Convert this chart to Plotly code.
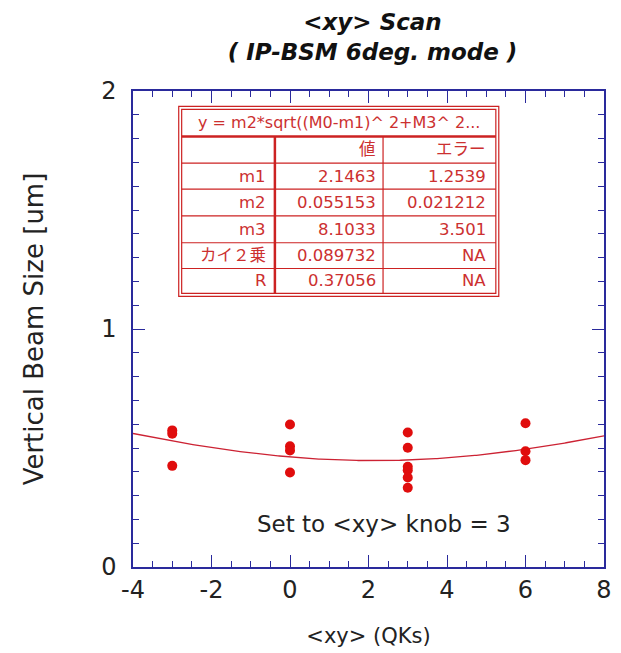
import numpy as np
import plotly.graph_objects as go

# ---- data ----
x_vals = [-3, -3, -3, 0, 0, 0, 0, 3, 3, 3, 3, 3, 3, 6, 6, 6]
y_vals = [0.574, 0.560, 0.425, 0.599, 0.507, 0.490, 0.397,
          0.565, 0.501, 0.421, 0.407, 0.376, 0.333, 0.604, 0.486, 0.449]

fit_m1 = 2.1463
fit_m2 = 0.055153
fit_m3 = 8.1033

table_title = "y = m2*sqrt((M0-m1)^ 2+M3^ 2..."
table_header = ["", "値", "エラー"]
row_labels = ["m1", "m2", "m3", "カイ２乗", "R"]
row_values = ["2.1463", "0.055153", "8.1033", "0.089732", "0.37056"]
row_errors = ["1.2539", "0.021212", "3.501", "NA", "NA"]

x_ticks = [-4, -2, 0, 2, 4, 6, 8]
y_ticks = [0, 1, 2]

# ---- figure ----
W, H = 621, 653
L, R, T, B = 133, 612, 91, 571

def px(x):
    return (x - L) / (R - L)

def py(y):
    return (B - y) / (B - T)

xf = np.linspace(-4, 8, 300)
yf = fit_m2 * np.sqrt((xf - fit_m1) ** 2 + fit_m3 ** 2)

fig = go.Figure()
fig.add_trace(go.Scatter(x=xf, y=yf, mode="lines",
                         line=dict(color="#cc2233", width=1.3),
                         hoverinfo="skip", showlegend=False))
fig.add_trace(go.Scatter(x=x_vals, y=y_vals, mode="markers",
                         marker=dict(color="#e00d0d", size=10),
                         showlegend=False))

FONT = "DejaVu Sans, Noto Sans CJK JP"
AX = "#2a2a9c"
RED = "#cc2222"
TXT = "#cc3030"

shapes = []
shapes.append(dict(type="rect", xref="paper", yref="paper",
                   x0=px(179.5), x1=px(505), y0=py(298), y1=py(106.5),
                   fillcolor="white", line=dict(color=RED, width=1.2), layer="above"))
shapes.append(dict(type="rect", xref="paper", yref="paper",
                   x0=px(182.5), x1=px(502), y0=py(295), y1=py(109.5),
                   line=dict(color=RED, width=1.2), layer="above"))
shapes.append(dict(type="line", xref="paper", yref="paper",
                   x0=px(182.5), x1=px(502), y0=py(137), y1=py(137),
                   line=dict(color=RED, width=2.5), layer="above"))
for yy in [163.7, 190, 217, 244, 270]:
    shapes.append(dict(type="line", xref="paper", yref="paper",
                       x0=px(182.5), x1=px(502), y0=py(yy), y1=py(yy),
                       line=dict(color=RED, width=1.2), layer="above"))
shapes.append(dict(type="line", xref="paper", yref="paper",
                   x0=px(277.3), x1=px(277.3), y0=py(137), y1=py(295),
                   line=dict(color=RED, width=2.5), layer="above"))
shapes.append(dict(type="line", xref="paper", yref="paper",
                   x0=px(387.3), x1=px(387.3), y0=py(137), y1=py(295),
                   line=dict(color=RED, width=1.2), layer="above"))

annotations = []
annotations.append(dict(xref="paper", yref="paper", x=px(342), y=py(123),
                        text=table_title, showarrow=False,
                        xanchor="center", yanchor="middle",
                        font=dict(family=FONT, size=16, color=TXT)))
row_centers = [150, 177, 203.5, 230.5, 257, 282.5]
col_rights = [270, 382, 494]
rows = [table_header] + [[row_labels[i], row_values[i], row_errors[i]]
                         for i in range(len(row_labels))]
for r, row in enumerate(rows):
    for c, txt in enumerate(row):
        if not txt:
            continue
        annotations.append(dict(xref="paper", yref="paper",
                                x=px(col_rights[c]), y=py(row_centers[r]),
                                text=txt, showarrow=False,
                                xanchor="right", yanchor="middle",
                                font=dict(family=FONT, size=16.5, color=TXT)))

annotations.append(dict(xref="x", yref="y", x=2.4, y=0.18,
                        text="Set to &lt;xy&gt; knob = 3", showarrow=False,
                        xanchor="center", yanchor="middle",
                        font=dict(family=FONT, size=23, color="#222222")))

fig.update_layout(
    width=W, height=H,
    margin=dict(l=L, r=W - R, t=T, b=H - B),
    paper_bgcolor="white", plot_bgcolor="white",
    title=dict(text="&lt;xy&gt; Scan<br>( IP-BSM 6deg. mode )",
               x=(L + R) / 2 / W, xanchor="center",
               y=1 - 30 / H, yanchor="middle",
               font=dict(family=FONT, size=23, color="#111111",
                         style="italic", weight="bold")),
    shapes=shapes,
    annotations=annotations,
    showlegend=False,
)

fig.update_xaxes(
    range=[-4, 8], tickvals=x_ticks, ticktext=[str(v) for v in x_ticks],
    ticks="inside", ticklen=12, tickwidth=1.3, tickcolor=AX,
    minor=dict(dtick=0.5, ticks="inside", ticklen=6, tickwidth=1, tickcolor=AX),
    showline=True, linecolor=AX, linewidth=1.5, mirror="ticks",
    showgrid=False, zeroline=False,
    tickfont=dict(family=FONT, size=24, color="#222222"),
    title=dict(text="&lt;xy&gt; (QKs)", standoff=26,
               font=dict(family=FONT, size=21, color="#222222")),
)
fig.update_yaxes(
    range=[0, 2], tickvals=y_ticks, ticktext=[str(v) for v in y_ticks],
    ticks="inside", ticklen=12, tickwidth=1.3, tickcolor=AX,
    minor=dict(dtick=0.1, ticks="inside", ticklen=6, tickwidth=1, tickcolor=AX),
    showline=True, linecolor=AX, linewidth=1.5, mirror="ticks",
    showgrid=False, zeroline=False,
    ticklabelstandoff=10,
    tickfont=dict(family=FONT, size=24, color="#222222"),
    title=dict(text="Vertical Beam Size [um]", standoff=50,
               font=dict(family=FONT, size=26, color="#222222")),
)

fig.write_html("out.html")
